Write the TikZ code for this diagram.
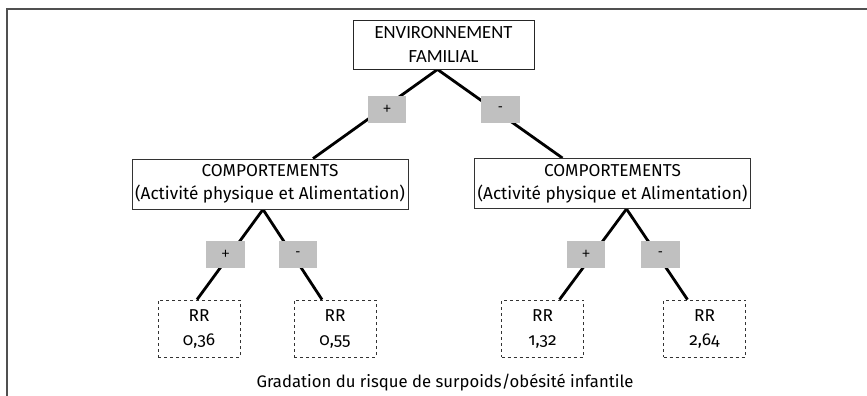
\documentclass[tikz,border=0pt]{standalone}
\usepackage{fontspec}
\setmainfont[Numbers=OldStyle]{Fira Sans}
\newfontfamily\carlitofont{Carlito}
\usetikzlibrary{calc,backgrounds}
\definecolor{frame}{HTML}{505050}
\definecolor{signgray}{HTML}{C0C0C0}
\tikzset{
  envbox/.style={draw=black!85, line width=0.9pt, fill=white, minimum width=181pt, minimum height=49pt, align=center, inner sep=0pt, font=\carlitofont\fontsize{18.6}{24}\selectfont},
  compbox/.style={draw=black!80, line width=0.9pt, fill=white, minimum width=276pt, minimum height=50pt, align=center, inner sep=0pt, font=\fontsize{17.2}{23}\selectfont},
  rrbox/.style={draw=black!80, dashed, line width=0.8pt, fill=white, minimum width=82pt, minimum height=57pt, align=center, inner sep=0pt, font=\fontsize{17.2}{24}\selectfont},
  signbox/.style={fill=signgray, minimum width=38.5pt, minimum height=27pt, inner sep=0pt, font=\carlitofont\fontsize{15}{15}\selectfont},
  link/.style={line width=2.8pt, black},
  caption/.style={inner sep=0pt, font=\fontsize{16.7}{18}\selectfont}
}
\begin{document}
\begin{tikzpicture}[x=1pt,y=-1pt]
\useasboundingbox (0,0) rectangle (867,396);

\node[envbox] (env) at (443.5,44.5) {ENVIRONNEMENT\\FAMILIAL};
\node[compbox] (c1) at (270,184) {COMPORTEMENTS\\(Activité physique et Alimentation)};
\node[compbox] (c2) at (612.5,183.5) {COMPORTEMENTS\\(Activité physique et Alimentation)};
\node[rrbox] (r1) at (199,328.5) {RR\\0,36};
\node[rrbox] (r2) at (335,328.5) {RR\\0,55};
\node[rrbox] (r3) at (542.5,328.5) {RR\\1,32};
\node[rrbox] (r4) at (704.5,328.5) {RR\\2,64};

\begin{scope}[on background layer]
\fill[white] (0,0) rectangle (867,396);
\draw[frame, line width=2pt] (7,396) -- (7,9.5) -- (867,9.5);
\draw[link] ($(env.south)+(-6,0)$) -- ($(c1.north)+(43,0)$);
\draw[link] ($(env.south)+(-6,0)$) -- ($(c2.north)+(-50,0)$);
\draw[link] ($(c1.south)+(-7,0)$) -- ($(r1.north)+(-2,0)$);
\draw[link] ($(c1.south)+(-7,0)$) -- ($(r2.north)+(-13,0)$);
\draw[link] ($(c2.south)+(14,0)$) -- ($(r3.north)+(17,0)$);
\draw[link] ($(c2.south)+(14,0)$) -- ($(r4.north)+(-17,0)$);
\end{scope}

\node[signbox] (s1) at (387,109.5) {+};
\node[signbox] (s2) at (500.5,109.5) {-};
\node[signbox] (s3) at (225.5,254) {+};
\node[signbox] (s4) at (298,254) {-};
\node[signbox] (s5) at (586,254) {+};
\node[signbox] (s6) at (660.5,254) {-};

\node[caption] (cap) at (445,383) {Gradation du risque de surpoids/obésité infantile};
\end{tikzpicture}
\end{document}
